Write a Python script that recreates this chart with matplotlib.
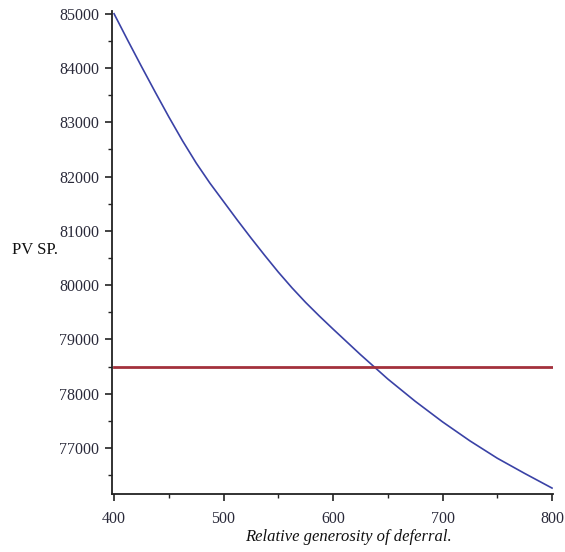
import matplotlib
matplotlib.use("Agg")
import matplotlib.pyplot as plt
from matplotlib.ticker import MultipleLocator

# values
generosity = [400, 412.5, 425, 437.5, 450, 462.5, 475, 487.5, 500,
              512.5, 525, 537.5, 550, 562.5, 575, 587.5, 600,
              625, 650, 675, 700, 725, 750, 775, 800]
pv_sp = [85000, 84510, 84030, 83560, 83100, 82660, 82250, 81880, 81540,
         81200, 80870, 80550, 80240, 79950, 79680, 79430, 79190,
         78720, 78270, 77860, 77480, 77130, 76810, 76530, 76260]
ref_x = [400, 800]
ref_y = [78500, 78500]

plt.rcParams["font.family"] = ["Liberation Serif", "DejaVu Serif"]

fig = plt.figure(figsize=(5.65, 5.52), dpi=100)
ax = fig.add_axes([0.198, 0.105, 0.780, 0.875])

ax.plot(generosity, pv_sp, color="#3a42a6", linewidth=1.2)
ax.plot(ref_x, ref_y, color="#a3313c", linewidth=2.0)

ax.set_xlim(398, 800.5)
ax.set_ylim(76150, 85050)

ax.xaxis.set_major_locator(MultipleLocator(100))
ax.xaxis.set_minor_locator(MultipleLocator(50))
ax.yaxis.set_major_locator(MultipleLocator(1000))
ax.yaxis.set_minor_locator(MultipleLocator(500))

for side in ("top", "right"):
    ax.spines[side].set_visible(False)
for side in ("left", "bottom"):
    ax.spines[side].set_linewidth(1.3)
    ax.spines[side].set_color("#222222")

ax.tick_params(which="major", direction="out", length=5, width=1.2,
               color="#222222", labelsize=11.5, labelcolor="#2a2a3a")
ax.tick_params(axis="x", which="major", pad=7)
ax.tick_params(axis="y", which="major", pad=4)
ax.tick_params(which="minor", direction="out", length=3, width=1.0, color="#222222")

ax.set_ylabel("PV SP.", rotation=0, fontsize=12, color="#111111",
              ha="center", va="center")
ax.yaxis.set_label_coords(-0.175, 0.505)
ax.set_xlabel("Relative generosity of deferral.", fontsize=12, style="italic",
              color="#111111", va="center")
ax.xaxis.set_label_coords(0.537, -0.088)

fig.savefig("out.png", dpi=100)
